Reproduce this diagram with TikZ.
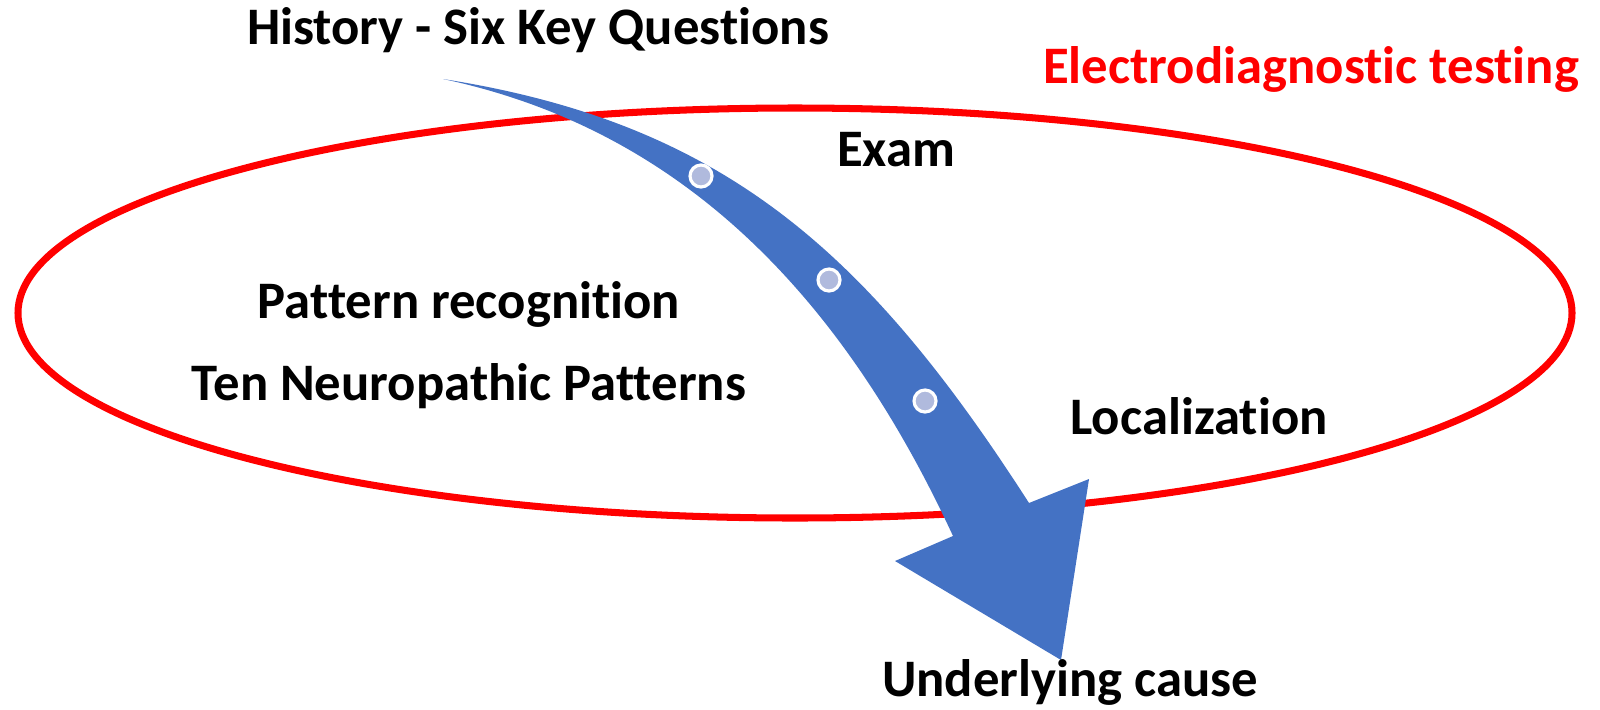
\documentclass[tikz,border=0pt]{standalone}
\usepackage{fontspec}
\setmainfont{Carlito}[Ligatures=NoCommon]
\definecolor{arrowblue}{HTML}{4472C4}
\definecolor{dotblue}{HTML}{B0BADD}
\tikzset{
  lbl/.style={font=\bfseries\fontsize{15}{18}\selectfont, anchor=base, inner sep=0pt},
  ring/.style={draw=red, line width=2pt},
  bead/.style={fill=dotblue, draw=white, line width=0.9pt}
}
\begin{document}
\begin{tikzpicture}
        \useasboundingbox (0,0) rectangle (16,7.09);

        % red ellipse
        \draw[ring] (7.95,3.96) ellipse (7.77cm and 2.05cm);

        % curved blue arrow
        \fill[arrowblue] (4.43,6.30) .. controls (7.23,5.86) and (8.67,4.58) .. (10.29,2.06)
            -- (10.89,2.30) -- (10.61,0.49) -- (8.95,1.48) -- (9.53,1.73)
            .. controls (8.30,4.39) and (6.60,5.84) .. (4.43,6.30) -- cycle;
        \foreach \p in {(7.01,5.33),(8.29,4.29),(9.25,3.08)}
            \draw[bead] \p circle (0.11);

        \node[lbl] (hist) at (5.38,6.65) {History - Six Key Questions};
        \node[lbl, text=red] (edx) at (13.11,6.26) {Electrodiagnostic testing};
        \node[lbl] (exam) at (8.96,5.43) {Exam};
        \node[lbl] (patt) at (4.69,3.91) {Pattern recognition};
        \node[lbl] (tenpat) at (4.69,3.09) {Ten Neuropathic Patterns};
        \node[lbl] (loc) at (11.99,2.75) {Localization};
        \node[lbl] (cause) at (10.70,0.13) {Underlying cause};
    \end{tikzpicture}
\end{document}
